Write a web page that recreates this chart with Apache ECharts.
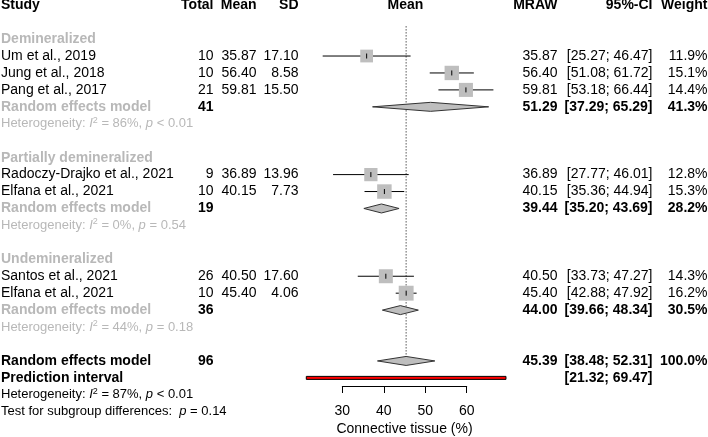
<!DOCTYPE html>
<html><head><meta charset="utf-8">
<script src="https://cdn.jsdelivr.net/npm/echarts@6/dist/echarts.min.js"></script>
<style>html,body{margin:0;padding:0;background:#fff}#c{width:708px;height:437px}</style>
</head><body><div id="c"></div>
<script>
// ---------------- data ----------------
const groupNames = ["Demineralized", "Partially demineralized", "Undemineralized"];
const studyNames = ["Um et al., 2019", "Jung et al., 2018", "Pang et al., 2017",
  "Radoczy-Drajko et al., 2021", "Elfana et al., 2021",
  "Santos et al., 2021", "Elfana et al., 2021"];
const studyGroup = [0, 0, 0, 1, 1, 2, 2];
const studyTotal = [10, 10, 21, 9, 10, 26, 10];
const studyMean = [35.87, 56.40, 59.81, 36.89, 40.15, 40.50, 45.40];
const studySD = [17.10, 8.58, 15.50, 13.96, 7.73, 17.60, 4.06];
const studyLower = [25.27, 51.08, 53.18, 27.77, 35.36, 33.73, 42.88];
const studyUpper = [46.47, 61.72, 66.44, 46.01, 44.94, 47.27, 47.92];
const studyWeight = [11.9, 15.1, 14.4, 12.8, 15.3, 14.3, 16.2];

const groupTotal = [41, 19, 36];
const groupMean = [51.29, 39.44, 44.00];
const groupLower = [37.29, 35.20, 39.66];
const groupUpper = [65.29, 43.69, 48.34];
const groupWeight = [41.3, 28.2, 30.5];
const groupI2 = [86, 0, 44];
const groupP = ["< 0.01", "= 0.54", "= 0.18"];

const overallTotal = 96;
const overallMean = 45.39;
const overallLower = 38.48;
const overallUpper = 52.31;
const overallWeight = 100.0;
const predLower = 21.32;
const predUpper = 69.47;
const overallI2 = 87;
const overallP = "< 0.01";
const subgroupP = "= 0.14";

const tickValues = [30, 40, 50, 60];
const axisTitle = "Connective tissue (%)";

// ---------------- layout ----------------
const FAM = '"Liberation Sans", Arial, Helvetica, sans-serif';
const FS = 14;
const FS_HET = 13;
const GRAY = '#B8B8B8';
const SQ = '#BEBEBE';
const X30 = 342.3, PPU = 4.147;          // pixels: position of 30, pixels per unit
const ROW0 = 5.2, ROWH = 16.94, NROWS = 25;
const COL = {study: 1, total: 213.5, mean: 256.5, sd: 298.5, plotMid: 405.5,
             mraw: 557.5, ci: 652.5, weight: 707.5};

const f2 = v => v.toFixed(2);
const ci = (l, u) => '[' + f2(l) + '; ' + f2(u) + ']';
const pct = w => w.toFixed(1) + '%';

// build rows
const textRows = [];
const studyRow = [];
const diamonds = []; // [mean, row, lower, upper]
let row = 2;
function cell(text, x, align, bold, color, rich, size) {
  return {text, x, align, bold: !!bold, color: color || '#000', rich, size: size || FS};
}
textRows.push({row: 0, cells: [
  cell('Study', COL.study, 'left', true), cell('Total', COL.total, 'right', true),
  cell('Mean', COL.mean, 'right', true), cell('SD', COL.sd, 'right', true),
  cell('Mean', COL.plotMid, 'center', true), cell('MRAW', COL.mraw, 'right', true),
  cell('95%-CI', COL.ci, 'right', true), cell('Weight', COL.weight, 'right', true)]});

function hetText(i2, p) {
  return 'Heterogeneity: {i|I}{s|2} = ' + i2 + '%, {i|p} ' + p;
}

groupNames.forEach((g, gi) => {
  textRows.push({row: row, cells: [cell(g, COL.study, 'left', true, GRAY)]});
  row++;
  studyNames.forEach((s, si) => {
    if (studyGroup[si] !== gi) return;
    studyRow[si] = row;
    textRows.push({row: row, cells: [
      cell(s, COL.study, 'left'), cell(String(studyTotal[si]), COL.total, 'right'),
      cell(f2(studyMean[si]), COL.mean, 'right'), cell(f2(studySD[si]), COL.sd, 'right'),
      cell(f2(studyMean[si]), COL.mraw, 'right'),
      cell(ci(studyLower[si], studyUpper[si]), COL.ci, 'right'),
      cell(pct(studyWeight[si]), COL.weight, 'right')]});
    row++;
  });
  diamonds.push([groupMean[gi], row, groupLower[gi], groupUpper[gi]]);
  textRows.push({row: row, cells: [
    cell('Random effects model', COL.study, 'left', true, GRAY),
    cell(String(groupTotal[gi]), COL.total, 'right', true),
    cell(f2(groupMean[gi]), COL.mraw, 'right', true),
    cell(ci(groupLower[gi], groupUpper[gi]), COL.ci, 'right', true),
    cell(pct(groupWeight[gi]), COL.weight, 'right', true)]});
  row++;
  textRows.push({row: row, cells: [cell(hetText(groupI2[gi], groupP[gi]), COL.study, 'left', false, GRAY, true, FS_HET)]});
  row += 2;
});
const overallRow = row;
diamonds.push([overallMean, overallRow, overallLower, overallUpper]);
textRows.push({row: row, cells: [
  cell('Random effects model', COL.study, 'left', true),
  cell(String(overallTotal), COL.total, 'right', true),
  cell(f2(overallMean), COL.mraw, 'right', true),
  cell(ci(overallLower, overallUpper), COL.ci, 'right', true),
  cell(pct(overallWeight), COL.weight, 'right', true)]});
row++;
const predRow = row;
textRows.push({row: row, cells: [
  cell('Prediction interval', COL.study, 'left', true),
  cell(ci(predLower, predUpper), COL.ci, 'right', true)]});
row++;
textRows.push({row: row, cells: [cell(hetText(overallI2, overallP), COL.study, 'left', false, '#000', true, FS_HET)]});
row++;
textRows.push({row: row, cells: [cell('Test for subgroup differences:  {i|p} ' + subgroupP, COL.study, 'left', false, '#000', true, FS_HET)]});

function font(bold, italic, size) {
  return (italic ? 'italic ' : 'normal ') + (bold ? 'bold ' : 'normal ') + (size || FS) + 'px ' + FAM;
}
function tok(bold, italic, size, color, extra) {
  return Object.assign({fontStyle: italic ? 'italic' : 'normal', fontWeight: bold ? 'bold' : 'normal',
    fontSize: size || FS, fontFamily: FAM, fill: color, font: font(bold, italic, size)}, extra || {});
}

// ---------------- chart ----------------
const chart = echarts.init(document.getElementById('c'), null, {renderer: 'canvas'});
const g0left = X30 - 10 * PPU, g0width = 50 * PPU;

const option = {
  animation: false,
  backgroundColor: '#fff',
  grid: [
    {left: g0left, width: g0width, top: ROW0, height: NROWS * ROWH, containLabel: false},
    {left: X30, width: 30 * PPU, top: 380, height: 6.5, containLabel: false}
  ],
  xAxis: [
    {gridIndex: 0, type: 'value', min: 20, max: 70, show: false},
    {gridIndex: 1, type: 'value', min: 30, max: 60, interval: 10,
     axisLine: {show: true, lineStyle: {color: '#000', width: 1}},
     axisTick: {show: true, length: 7, lineStyle: {color: '#000', width: 1}},
     axisLabel: {show: true, color: '#000', fontSize: FS, fontFamily: FAM, margin: 18,
       customValues: tickValues, formatter: v => String(v)},
     splitLine: {show: false},
     name: axisTitle, nameLocation: 'middle', nameGap: 36,
     nameTextStyle: {color: '#000', fontSize: FS, fontFamily: FAM}}
  ],
  yAxis: [
    {gridIndex: 0, type: 'value', min: 0, max: NROWS, inverse: true, show: false},
    {gridIndex: 1, type: 'value', show: false}
  ],
  series: [
    { // reference line
      type: 'custom', xAxisIndex: 0, yAxisIndex: 0, silent: true,
      data: [[overallMean, 1.25, overallRow]],
      renderItem: (p, api) => {
        const a = api.coord([api.value(0), api.value(1)]);
        const b = api.coord([api.value(0), api.value(2)]);
        return {type: 'line', shape: {x1: a[0], y1: a[1], x2: b[0], y2: b[1]},
          style: {stroke: '#000', lineWidth: 1, lineDash: [1, 2]}};
      }
    },
    { // studies
      type: 'custom', xAxisIndex: 0, yAxisIndex: 0, silent: true,
      data: studyMean.map((m, i) => [m, studyRow[i], studyLower[i], studyUpper[i], studyWeight[i]]),
      renderItem: (p, api) => {
        const c = api.coord([api.value(0), api.value(1)]);
        const l = api.coord([api.value(2), api.value(1)]);
        const u = api.coord([api.value(3), api.value(1)]);
        const s = 3.7 * Math.sqrt(api.value(4));
        return {type: 'group', children: [
          {type: 'line', shape: {x1: l[0], y1: c[1], x2: u[0], y2: c[1]}, style: {stroke: '#000', lineWidth: 1}},
          {type: 'rect', shape: {x: c[0] - s / 2, y: c[1] - s / 2, width: s, height: s}, style: {fill: SQ}},
          {type: 'line', shape: {x1: c[0], y1: c[1] - 2.5, x2: c[0], y2: c[1] + 2.5}, style: {stroke: '#000', lineWidth: 1}}
        ]};
      }
    },
    { // diamonds
      type: 'custom', xAxisIndex: 0, yAxisIndex: 0, silent: true,
      data: diamonds,
      renderItem: (p, api) => {
        const c = api.coord([api.value(0), api.value(1)]);
        const l = api.coord([api.value(2), api.value(1)]);
        const u = api.coord([api.value(3), api.value(1)]);
        const h = 4.5;
        return {type: 'polygon', shape: {points: [[l[0], c[1]], [c[0], c[1] - h], [u[0], c[1]], [c[0], c[1] + h]]},
          style: {fill: SQ, stroke: '#333', lineWidth: 1}};
      }
    },
    { // prediction interval
      type: 'custom', xAxisIndex: 0, yAxisIndex: 0, silent: true,
      data: [[predLower, predRow, predUpper]],
      renderItem: (p, api) => {
        const l = api.coord([api.value(0), api.value(1)]);
        const u = api.coord([api.value(2), api.value(1)]);
        return {type: 'rect', shape: {x: l[0], y: l[1] - 1.5, width: u[0] - l[0], height: 3},
          style: {fill: '#FF0000', stroke: '#000', lineWidth: 1}};
      }
    },
    { // texts
      type: 'custom', xAxisIndex: 0, yAxisIndex: 0, silent: true,
      data: textRows.map(r => [20, r.row]),
      renderItem: (p, api) => {
        const r = textRows[p.dataIndex];
        const y = api.coord([20, api.value(1)])[1];
        return {type: 'group', children: r.cells.map(c => {
          const style = {text: c.text, x: c.x, y: y, align: c.align, verticalAlign: 'middle',
            fill: c.color, font: font(c.bold, false, c.size), fontFamily: FAM, fontSize: c.size,
            fontWeight: c.bold ? 'bold' : 'normal'};
          if (c.rich) {
            style.rich = {
              i: tok(c.bold, true, c.size, c.color),
              s: tok(c.bold, false, 9, c.color, {padding: [0, 0, 7, 0]})
            };
          }
          return {type: 'text', style};
        })};
      }
    }
  ]
};
chart.setOption(option);
</script>
</body></html>
